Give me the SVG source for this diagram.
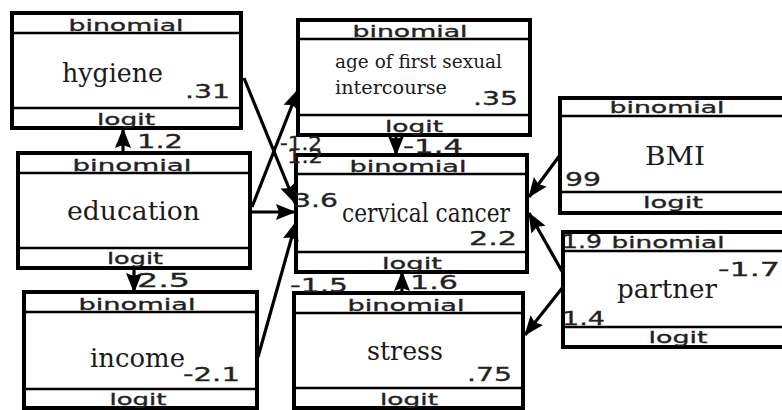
<svg xmlns="http://www.w3.org/2000/svg" width="782" height="410" viewBox="0 0 782 410">
<style>
.box{fill:#fff;stroke:#000;stroke-width:4}
.div{stroke:#000;stroke-width:2.5}
.hd{font-family:"DejaVu Sans",sans-serif;font-size:15px;fill:#222;stroke:#222;stroke-width:0.3;text-anchor:middle}
.nm{font-family:"DejaVu Serif",serif;font-size:26px;fill:#1a1a1a}
.nm2{font-family:"DejaVu Serif",serif;font-size:19px;fill:#1a1a1a}
.num{font-family:"DejaVu Sans",sans-serif;font-size:19px;fill:#222;stroke:#222;stroke-width:0.3}
.ln{stroke:#000;stroke-width:3.2;fill:none;marker-end:url(#ah)}
</style>
<defs>
<marker id="ah" markerUnits="userSpaceOnUse" markerWidth="20" markerHeight="16" refX="19" refY="8" orient="auto">
<path d="M0,0 L20,8 L0,16 L3,8 z" fill="#000"/>
</marker>
</defs>
<rect width="782" height="410" fill="#fff"/>

<g id="hygiene">
<rect class="box" x="12" y="13" width="229" height="115"/>
<line class="div" x1="12" y1="33" x2="241" y2="33"/>
<line class="div" x1="12" y1="108" x2="241" y2="108"/>
<text class="hd" x="126" y="31" textLength="115" lengthAdjust="spacingAndGlyphs">binomial</text>
<text class="hd" x="126" y="125" textLength="58" lengthAdjust="spacingAndGlyphs">logit</text>
<text class="nm" x="62" y="82" textLength="101" lengthAdjust="spacingAndGlyphs">hygiene</text>
<text class="num" x="185" y="98" textLength="45" lengthAdjust="spacingAndGlyphs">.31</text>
</g>

<g id="education">
<rect class="box" x="18" y="153" width="232" height="115"/>
<line class="div" x1="18" y1="173" x2="250" y2="173"/>
<line class="div" x1="18" y1="248" x2="250" y2="248" stroke-width="4"/>
<text class="hd" x="132" y="171" textLength="119" lengthAdjust="spacingAndGlyphs">binomial</text>
<text class="hd" x="135" y="264" textLength="56" lengthAdjust="spacingAndGlyphs">logit</text>
<text class="nm" x="67" y="220" textLength="133" lengthAdjust="spacingAndGlyphs">education</text>
</g>

<g id="income">
<rect class="box" x="24" y="292" width="233" height="116"/>
<line class="div" x1="24" y1="312" x2="257" y2="312"/>
<line class="div" x1="24" y1="389" x2="257" y2="389"/>
<text class="hd" x="137" y="310" textLength="117" lengthAdjust="spacingAndGlyphs">binomial</text>
<text class="hd" x="138" y="405" textLength="57" lengthAdjust="spacingAndGlyphs">logit</text>
<text class="nm" x="90" y="367" textLength="95" lengthAdjust="spacingAndGlyphs">income</text>
<text class="num" x="183" y="381" textLength="57" lengthAdjust="spacingAndGlyphs">-2.1</text>
</g>

<g id="age">
<rect class="box" x="298" y="20" width="232" height="115"/>
<line class="div" x1="298" y1="39" x2="530" y2="39"/>
<line class="div" x1="298" y1="115" x2="530" y2="115" stroke-width="4"/>
<text class="hd" x="410" y="37" textLength="115" lengthAdjust="spacingAndGlyphs">binomial</text>
<text class="hd" x="414" y="132" textLength="58" lengthAdjust="spacingAndGlyphs">logit</text>
<text class="nm2" x="335" y="68" textLength="167" lengthAdjust="spacingAndGlyphs">age of first sexual</text>
<text class="nm2" x="335" y="94" textLength="112" lengthAdjust="spacingAndGlyphs">intercourse</text>
<text class="num" x="473" y="105" textLength="45" lengthAdjust="spacingAndGlyphs">.35</text>
</g>

<g id="cervical">
<rect class="box" x="296" y="155" width="231" height="117"/>
<line class="div" x1="296" y1="174" x2="527" y2="174"/>
<line class="div" x1="296" y1="252" x2="527" y2="252"/>
<text class="hd" x="408" y="172" textLength="117" lengthAdjust="spacingAndGlyphs">binomial</text>
<text class="hd" x="412" y="269" textLength="60" lengthAdjust="spacingAndGlyphs">logit</text>
<text class="nm" x="342" y="222" font-size="23" textLength="168" lengthAdjust="spacingAndGlyphs">cervical cancer</text>
<text class="num" x="469" y="245" font-size="18" textLength="48" lengthAdjust="spacingAndGlyphs">2.2</text>
<text class="num" x="293" y="207" textLength="45" lengthAdjust="spacingAndGlyphs">3.6</text>
</g>

<g id="stress">
<rect class="box" x="294" y="293" width="229" height="115"/>
<line class="div" x1="294" y1="313" x2="523" y2="313"/>
<line class="div" x1="294" y1="388" x2="523" y2="388"/>
<text class="hd" x="406" y="311" textLength="117" lengthAdjust="spacingAndGlyphs">binomial</text>
<text class="hd" x="409" y="405" textLength="58" lengthAdjust="spacingAndGlyphs">logit</text>
<text class="nm" x="367" y="360" textLength="76" lengthAdjust="spacingAndGlyphs">stress</text>
<text class="num" x="467" y="381" textLength="45" lengthAdjust="spacingAndGlyphs">.75</text>
</g>

<g id="bmi">
<rect class="box" x="560" y="98" width="240" height="115"/>
<line class="div" x1="560" y1="116" x2="800" y2="116"/>
<line class="div" x1="560" y1="192" x2="800" y2="192"/>
<text class="hd" x="667" y="113" textLength="115" lengthAdjust="spacingAndGlyphs">binomial</text>
<text class="hd" x="673" y="208" textLength="60" lengthAdjust="spacingAndGlyphs">logit</text>
<text class="nm" x="645" y="165" font-size="27" textLength="60" lengthAdjust="spacingAndGlyphs">BMI</text>
<text class="num" x="565" y="186" textLength="36" lengthAdjust="spacingAndGlyphs">99</text>
</g>

<g id="partner">
<rect class="box" x="563" y="232" width="240" height="115"/>
<line class="div" x1="563" y1="251" x2="800" y2="251"/>
<line class="div" x1="563" y1="327" x2="800" y2="327"/>
<text class="hd" x="668" y="248" textLength="113" lengthAdjust="spacingAndGlyphs">binomial</text>
<text class="hd" x="678" y="343" textLength="59" lengthAdjust="spacingAndGlyphs">logit</text>
<text class="num" x="562" y="248" textLength="40" lengthAdjust="spacingAndGlyphs">1.9</text>
<text class="nm" x="617" y="298" textLength="100" lengthAdjust="spacingAndGlyphs">partner</text>
<text class="num" x="718" y="276" textLength="62" lengthAdjust="spacingAndGlyphs">-1.7</text>
<text class="num" x="562" y="325" textLength="43" lengthAdjust="spacingAndGlyphs">1.4</text>
</g>

<g id="connectors">
<line class="ln" x1="244" y1="78" x2="295" y2="203"/>
<line class="ln" x1="252" y1="207" x2="298" y2="90"/>
<line class="ln" x1="252" y1="212" x2="295" y2="212"/>
<line class="ln" x1="258" y1="357" x2="296" y2="222"/>
<line class="ln" x1="560" y1="155" x2="529" y2="197"/>
<line class="ln" x1="563" y1="273" x2="529" y2="213"/>
<line class="ln" x1="563" y1="287" x2="525" y2="335"/>
<line class="ln" x1="123" y1="153" x2="123" y2="129"/>
<line class="ln" x1="134" y1="268" x2="134" y2="292"/>
<line class="ln" x1="396" y1="135" x2="396" y2="155"/>
<line class="ln" x1="402" y1="293" x2="402" y2="272"/>
<text class="num" x="137" y="148" textLength="46" lengthAdjust="spacingAndGlyphs">1.2</text>
<text class="num" x="137" y="287" textLength="53" lengthAdjust="spacingAndGlyphs">2.5</text>
<text class="num" x="280" y="150" textLength="42" lengthAdjust="spacingAndGlyphs">-1.2</text>
<text class="num" x="287" y="163" font-size="15" textLength="36" lengthAdjust="spacingAndGlyphs">1.2</text>
<text class="num" x="403" y="153" textLength="60" lengthAdjust="spacingAndGlyphs">-1.4</text>
<text class="num" x="290" y="292" textLength="58" lengthAdjust="spacingAndGlyphs">-1.5</text>
<text class="num" x="410" y="289" textLength="48" lengthAdjust="spacingAndGlyphs">1.6</text>
</g>
</svg>
